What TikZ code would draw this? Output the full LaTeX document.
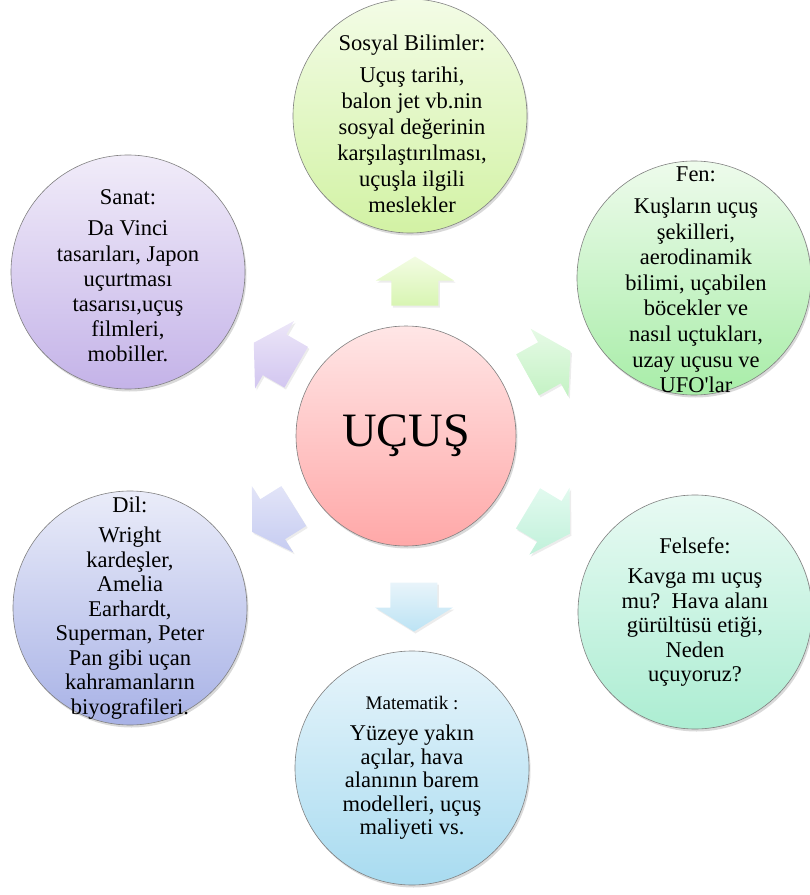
\documentclass[tikz,border=0pt]{standalone}
\usepackage{fontspec}
\setmainfont{Liberation Serif}
\usetikzlibrary{shadows}
\begin{document}
\begin{tikzpicture}[x=1pt,y=1pt,
  bubble/.style={circle, draw=black!50, line width=0.6pt, minimum size=234pt, inner sep=0pt, top color=topc, bottom color=botc, drop shadow={opacity=0.3, shadow xshift=1.5pt, shadow yshift=-2.5pt}},
  bubbletext/.style={align=center, inner sep=0pt, font=\fontsize{22.5}{24.5}\selectfont},
  blockarrow/.style={draw=none, top color=topc, bottom color=botc, drop shadow={opacity=0.15, shadow xshift=1.5pt, shadow yshift=-2pt}}]
\pgfmathsetmacro\hgap{6}
\pgfmathsetmacro\shaft{23.5}
\pgfmathsetmacro\head{39}
\useasboundingbox (-406,-459) rectangle (404,436);
\foreach \x/\y/\a/\t/\b in {9/155/90/F3FCE4/D8F5B2, 143/73/29/E6FAE6/C4F2C4, 143/-85/-31/E2FAEF/C0F1DA, 8/-171/-90/E8F4FA/BCE3F4, -133/-83/-148/E2E4F8/C6CCF1, -131/81/150/ECE6F8/D2C6F0}
  {\definecolor{topc}{HTML}{\t}\definecolor{botc}{HTML}{\b}
   \path[blockarrow, shift={(\x,\y)}, rotate=\a] (-24.5,-\shaft) -- (0.5,-\shaft) -- (0.5,-\head) -- (24.5,0) -- (0.5,\head) -- (0.5,\shaft) -- (-24.5,\shaft) -- cycle;}
\definecolor{topc}{HTML}{FFE6E6}\definecolor{botc}{HTML}{FFA8A8}
\node[bubble, minimum size=220pt] (ucus) at (0,0) {};
\node[bubbletext] (ucus-t) at (ucus) {\scalebox{2.13}{UÇUŞ}};
\definecolor{topc}{HTML}{F3FCE6}\definecolor{botc}{HTML}{D2F2A4}
\node[bubble] (sosyal) at (4,320) {};
\node[bubbletext, font=\fontsize{22.5}{26}\selectfont] (sosyal-t) at (6,312) {Sosyal Bilimler:\\[\hgap pt] Uçuş tarihi,\\ balon jet vb.nin\\ sosyal değerinin\\ karşılaştırılması,\\ uçuşla ilgili\\ meslekler};
\definecolor{topc}{HTML}{EEFBEC}\definecolor{botc}{HTML}{A8EDA8}
\node[bubble] (fen) at (288,158) {};
\node[bubbletext, font=\fontsize{22.5}{25.6}\selectfont] (fen-t) at (290,156) {Fen:\\[\hgap pt] Kuşların uçuş\\ şekilleri,\\ aerodinamik\\ bilimi, uçabilen\\ böcekler ve\\ nasıl uçtukları,\\ uzay uçusu ve\\ UFO\textquotesingle lar};
\definecolor{topc}{HTML}{E8FAF3}\definecolor{botc}{HTML}{ACEDD2}
\node[bubble] (felsefe) at (289,-176) {};
\node[bubbletext] (felsefe-t) at (felsefe) {Felsefe:\\[\hgap pt] Kavga mı uçuş\\ mu?\ \ Hava alanı\\ gürültüsü etiği,\\ Neden\\ uçuyoruz?};
\definecolor{topc}{HTML}{E8F5FB}\definecolor{botc}{HTML}{A8DBF0}
\node[bubble] (matematik) at (6,-332) {};
\node[bubbletext, font=\fontsize{22.5}{23.5}\selectfont] (matematik-t) at (6,-332) {\scalebox{0.85}{Matematik :}\\[8pt] Yüzeye yakın\\ açılar, hava\\ alanının barem\\ modelleri, uçuş\\ maliyeti vs.};
\definecolor{topc}{HTML}{EAECF9}\definecolor{botc}{HTML}{A8B2E6}
\node[bubble] (dil) at (-276,-172) {};
\node[bubbletext] (dil-t) at (dil) {Dil:\\[\hgap pt] Wright\\ kardeşler,\\ Amelia\\ Earhardt,\\ Superman, Peter\\ Pan gibi uçan\\ kahramanların\\ biyografileri.};
\definecolor{topc}{HTML}{F1ECF9}\definecolor{botc}{HTML}{C4B3E8}
\node[bubble] (sanat) at (-278,164) {};
\node[bubbletext, font=\fontsize{22.5}{25.2}\selectfont] (sanat-t) at (-278,160) {Sanat:\\[\hgap pt] Da Vinci\\ tasarıları, Japon\\ uçurtması\\ tasarısı,uçuş\\ filmleri,\\ mobiller.};
\end{tikzpicture}
\end{document}
